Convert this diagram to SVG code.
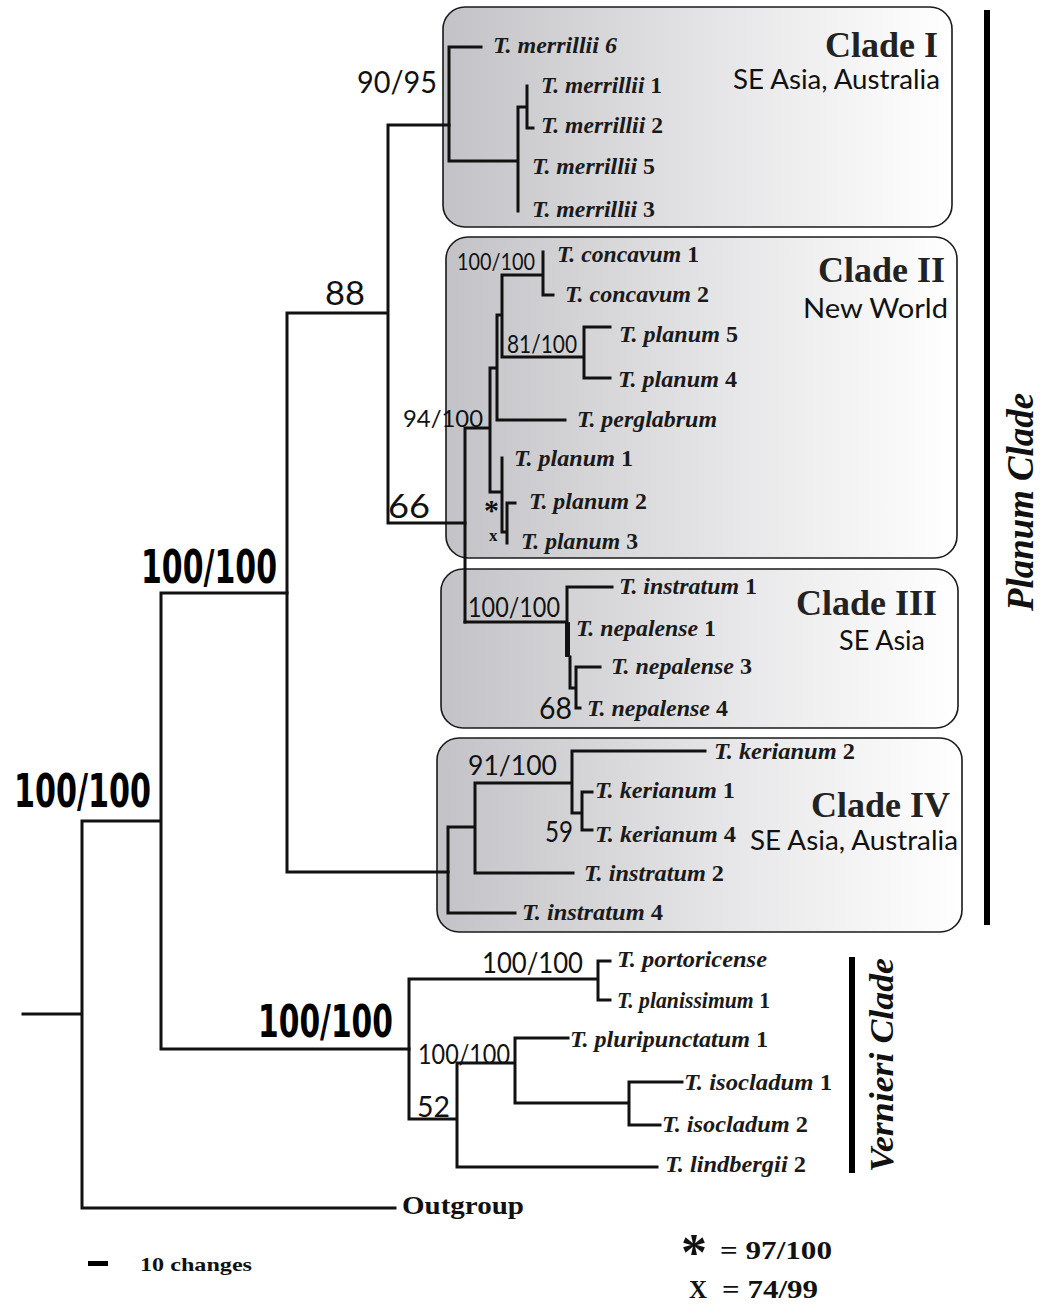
<svg xmlns="http://www.w3.org/2000/svg" width="1052" height="1306" viewBox="0 0 1052 1306">
<defs>
<linearGradient id="boxg" x1="0" y1="0" x2="1" y2="0">
<stop offset="0" stop-color="#c3c3c7"/>
<stop offset="0.55" stop-color="#e6e6e8"/>
<stop offset="1" stop-color="#ffffff"/>
</linearGradient>
<style>
.box{fill:url(#boxg);stroke:#1a1a1a;stroke-width:1.6}
.br{fill:none;stroke:#111;stroke-width:3;stroke-linecap:square;stroke-linejoin:miter}
.sp{font-family:"Liberation Serif","Times New Roman",serif;font-weight:bold;font-style:italic;font-size:23px;fill:#1a1a1a}
.num{font-style:normal}
.sup{font-family:Lato,"Open Sans",sans-serif;fill:#111}
.big{font-family:"DejaVu Sans Condensed","Liberation Sans",sans-serif;font-weight:bold;fill:#000}
.ct{font-family:"Liberation Serif","Times New Roman",serif;font-weight:bold;font-size:36px;fill:#222;text-anchor:end}
.rg{font-family:Lato,"Open Sans",sans-serif;font-size:26px;fill:#111;text-anchor:end}
.lg{font-family:"Liberation Serif","Times New Roman",serif;font-weight:bold;fill:#111}
.vl{font-family:"Liberation Serif","Times New Roman",serif;font-weight:bold;font-style:italic;fill:#111;text-anchor:middle}
</style>
</defs>
<rect width="1052" height="1306" fill="#fff"/>

<g id="clade-boxes">
<rect id="box-clade1" class="box" x="443" y="7" width="509" height="220" rx="22"/>
<rect id="box-clade2" class="box" x="446" y="237" width="511" height="321" rx="22"/>
<rect id="box-clade3" class="box" x="441" y="569" width="517" height="159" rx="22"/>
<rect id="box-clade4" class="box" x="437" y="738" width="525" height="194" rx="22"/>
</g>

<g id="connectors" class="br">
<path d="M23 1014H82M82 821V1208M82 821H161M82 1208H395M161 593V1049M161 593H287M161 1049H409"/>
<path d="M287 313V872M287 313H388M287 872H448M388 125V523M388 125H449M388 523H465"/>
<path d="M449 47V161M449 47H481M449 161H518M518 107V211M518 107H527M527 86V128H533"/>
<path d="M465 428V622M465 428H490M490 368V492M490 368H497M497 315V420M497 420H565M497 315H502M502 275V357M502 275H543M543 252V295H553M502 357H584M584 327V378M584 327H610M584 378H610M490 492H502M502 458V532H507M507 503V543M507 503H515"/>
<path d="M465 622H567M567 587V622M567 587H612M570 657V688H576M576 667V708M576 667H600M576 708H580"/>
<path d="M448 827V913M448 913H515M448 827H475M475 783V873M475 873H573M475 783H572M572 751V813M572 751H705M572 813H582M582 792V830M582 792H592M582 830H592"/>
<path d="M409 979V1119M409 979H598M598 961V1000M598 961H610M598 1000H610M409 1119H457M457 1063V1167M457 1063H515M515 1038V1103M515 1038H568M515 1103H629M629 1082V1125M629 1082H682M629 1125H660M457 1167H657"/>
<rect x="565" y="622" width="5" height="35" fill="#111" stroke="none"/>
</g>

<g id="support-values">
<text class="big" x="14" y="807" font-size="46" textLength="137" lengthAdjust="spacingAndGlyphs">100/100</text>
<text class="big" x="141" y="583" font-size="46" textLength="136" lengthAdjust="spacingAndGlyphs">100/100</text>
<text class="big" x="258" y="1037" font-size="44" textLength="135" lengthAdjust="spacingAndGlyphs">100/100</text>
<text class="sup" x="357" y="93" font-size="30" textLength="80" lengthAdjust="spacingAndGlyphs">90/95</text>
<text class="sup" x="325" y="305" font-size="32" textLength="40" lengthAdjust="spacingAndGlyphs">88</text>
<text class="sup" x="388" y="518" font-size="32" textLength="42" lengthAdjust="spacingAndGlyphs">66</text>
<text class="sup" x="403" y="427" font-size="24" textLength="80" lengthAdjust="spacingAndGlyphs">94/100</text>
<text class="sup" x="457" y="270" font-size="23" textLength="78" lengthAdjust="spacingAndGlyphs">100/100</text>
<text class="sup" x="507" y="353" font-size="25" textLength="70" lengthAdjust="spacingAndGlyphs">81/100</text>
<text class="sup" x="468" y="617" font-size="27" textLength="92" lengthAdjust="spacingAndGlyphs">100/100</text>
<text class="sup" x="539" y="719" font-size="30" textLength="33" lengthAdjust="spacingAndGlyphs">68</text>
<text class="sup" x="468" y="775" font-size="27" textLength="89" lengthAdjust="spacingAndGlyphs">91/100</text>
<text class="sup" x="545" y="842" font-size="28" textLength="28" lengthAdjust="spacingAndGlyphs">59</text>
<text class="sup" x="482" y="973" font-size="28" textLength="101" lengthAdjust="spacingAndGlyphs">100/100</text>
<text class="sup" x="418" y="1064" font-size="26" textLength="92" lengthAdjust="spacingAndGlyphs">100/100</text>
<text class="sup" x="417" y="1117" font-size="28" textLength="33" lengthAdjust="spacingAndGlyphs">52</text>
<text class="lg" x="484" y="520" font-size="30">*</text>
<text class="lg" x="489" y="541" font-size="17" font-weight="normal">x</text>
</g>

<g id="taxa">
<text id="t-merrillii6" class="sp" x="493" y="53" textLength="124" lengthAdjust="spacingAndGlyphs">T. merrillii 6</text>
<text id="t-merrillii1" class="sp" x="541" y="93" textLength="121" lengthAdjust="spacingAndGlyphs">T. merrillii <tspan class="num">1</tspan></text>
<text id="t-merrillii2" class="sp" x="541" y="133" textLength="122" lengthAdjust="spacingAndGlyphs">T. merrillii <tspan class="num">2</tspan></text>
<text id="t-merrillii5" class="sp" x="532" y="174" textLength="123" lengthAdjust="spacingAndGlyphs">T. merrillii <tspan class="num">5</tspan></text>
<text id="t-merrillii3" class="sp" x="532" y="217" textLength="123" lengthAdjust="spacingAndGlyphs">T. merrillii <tspan class="num">3</tspan></text>
<text id="t-concavum1" class="sp" x="557" y="262" textLength="142" lengthAdjust="spacingAndGlyphs">T. concavum <tspan class="num">1</tspan></text>
<text id="t-concavum2" class="sp" x="565" y="302" textLength="144" lengthAdjust="spacingAndGlyphs">T. concavum <tspan class="num">2</tspan></text>
<text id="t-planum5" class="sp" x="619" y="342" textLength="119" lengthAdjust="spacingAndGlyphs">T. planum <tspan class="num">5</tspan></text>
<text id="t-planum4" class="sp" x="618" y="387" textLength="119" lengthAdjust="spacingAndGlyphs">T. planum <tspan class="num">4</tspan></text>
<text id="t-perglabrum" class="sp" x="577" y="427" textLength="140" lengthAdjust="spacingAndGlyphs">T. perglabrum</text>
<text id="t-planum1" class="sp" x="514" y="466" textLength="119" lengthAdjust="spacingAndGlyphs">T. planum <tspan class="num">1</tspan></text>
<text id="t-planum2" class="sp" x="529" y="509" textLength="118" lengthAdjust="spacingAndGlyphs">T. planum <tspan class="num">2</tspan></text>
<text id="t-planum3" class="sp" x="521" y="549" textLength="117" lengthAdjust="spacingAndGlyphs">T. planum <tspan class="num">3</tspan></text>
<text id="t-instratum1" class="sp" x="619" y="594" textLength="138" lengthAdjust="spacingAndGlyphs">T. instratum <tspan class="num">1</tspan></text>
<text id="t-nepalense1" class="sp" x="576" y="636" textLength="140" lengthAdjust="spacingAndGlyphs">T. nepalense <tspan class="num">1</tspan></text>
<text id="t-nepalense3" class="sp" x="611" y="674" textLength="141" lengthAdjust="spacingAndGlyphs">T. nepalense <tspan class="num">3</tspan></text>
<text id="t-nepalense4" class="sp" x="587" y="716" textLength="141" lengthAdjust="spacingAndGlyphs">T. nepalense <tspan class="num">4</tspan></text>
<text id="t-kerianum2" class="sp" x="714" y="759" textLength="141" lengthAdjust="spacingAndGlyphs">T. kerianum <tspan class="num">2</tspan></text>
<text id="t-kerianum1" class="sp" x="595" y="798" textLength="140" lengthAdjust="spacingAndGlyphs">T. kerianum <tspan class="num">1</tspan></text>
<text id="t-kerianum4" class="sp" x="595" y="842" textLength="141" lengthAdjust="spacingAndGlyphs">T. kerianum <tspan class="num">4</tspan></text>
<text id="t-instratum2" class="sp" x="584" y="881" textLength="140" lengthAdjust="spacingAndGlyphs">T. instratum <tspan class="num">2</tspan></text>
<text id="t-instratum4" class="sp" x="522" y="920" textLength="141" lengthAdjust="spacingAndGlyphs">T. instratum <tspan class="num">4</tspan></text>
<text id="t-portoricense" class="sp" x="617" y="967" textLength="150" lengthAdjust="spacingAndGlyphs">T. portoricense</text>
<text id="t-planissimum1" class="sp" x="617" y="1008" textLength="153" lengthAdjust="spacingAndGlyphs">T. planissimum <tspan class="num">1</tspan></text>
<text id="t-pluripunctatum1" class="sp" x="570" y="1047" textLength="198" lengthAdjust="spacingAndGlyphs">T. pluripunctatum <tspan class="num">1</tspan></text>
<text id="t-isocladum1" class="sp" x="684" y="1090" textLength="148" lengthAdjust="spacingAndGlyphs">T. isocladum <tspan class="num">1</tspan></text>
<text id="t-isocladum2" class="sp" x="662" y="1132" textLength="146" lengthAdjust="spacingAndGlyphs">T. isocladum <tspan class="num">2</tspan></text>
<text id="t-lindbergii2" class="sp" x="665" y="1172" textLength="141" lengthAdjust="spacingAndGlyphs">T. lindbergii  <tspan class="num">2</tspan></text>
<text id="t-outgroup" class="lg" x="402" y="1214" font-size="26" textLength="122" lengthAdjust="spacingAndGlyphs">Outgroup</text>
</g>

<g id="clade-labels">
<text class="ct" x="938" y="57">Clade I</text>
<text class="rg" x="940" y="89" textLength="207" lengthAdjust="spacingAndGlyphs">SE Asia, Australia</text>
<text class="ct" x="945" y="282">Clade II</text>
<text class="rg" x="948" y="318" textLength="145" lengthAdjust="spacingAndGlyphs">New World</text>
<text class="ct" x="937" y="615">Clade III</text>
<text class="rg" x="925" y="650" textLength="86" lengthAdjust="spacingAndGlyphs">SE Asia</text>
<text class="ct" x="950" y="817">Clade IV</text>
<text class="rg" x="958" y="850" textLength="208" lengthAdjust="spacingAndGlyphs">SE Asia, Australia</text>
</g>

<g id="group-bars">
<rect x="984" y="10" width="6" height="915" fill="#000"/>
<text class="vl" transform="translate(1033 502) rotate(-90)" font-size="38" textLength="218" lengthAdjust="spacingAndGlyphs">Planum Clade</text>
<rect x="849" y="957" width="6" height="216" fill="#000"/>
<text class="vl" transform="translate(893 1065) rotate(-90)" font-size="33" textLength="214" lengthAdjust="spacingAndGlyphs">Vernieri Clade</text>
</g>

<g id="legend">
<rect x="88" y="1261" width="20" height="5" fill="#000"/>
<text class="lg" x="140" y="1271" font-size="19" textLength="112" lengthAdjust="spacingAndGlyphs">10 changes</text>
<text class="lg" transform="translate(681 1270) scale(1.3)" font-size="40">*</text>
<text class="lg" x="720" y="1259" font-size="25" textLength="112" lengthAdjust="spacingAndGlyphs">= 97/100</text>
<text class="lg" x="689" y="1298" font-size="25" textLength="18" lengthAdjust="spacingAndGlyphs">X</text>
<text class="lg" x="722" y="1298" font-size="25" textLength="96" lengthAdjust="spacingAndGlyphs">= 74/99</text>
</g>
</svg>
